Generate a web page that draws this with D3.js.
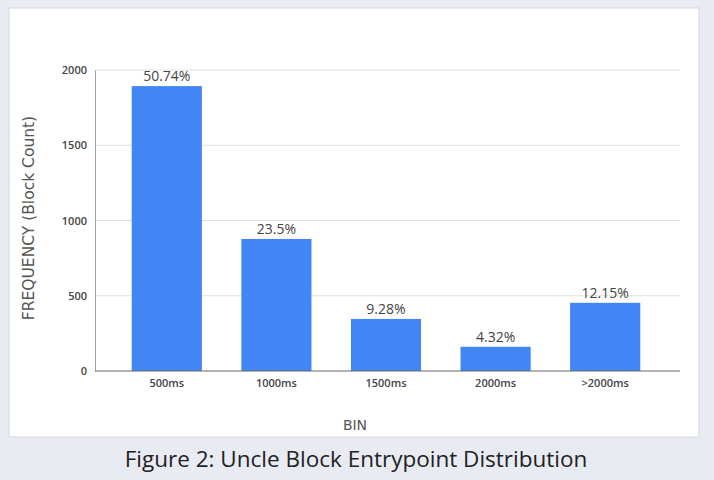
<!DOCTYPE html>
<html>
<head>
<meta charset="utf-8">
<script src="https://cdn.jsdelivr.net/npm/d3@7"></script>
<style>
  body { margin: 0; background: #e8ebf2; }
  svg { display: block; }
</style>
</head>
<body>
<div id="container"><svg></svg></div>
<script>
let width = 714;
let height = 480;

let bins = ['500ms', '1000ms', '1500ms', '2000ms', '>2000ms'];
let counts = [1893, 877, 346, 161, 453];
let percents = ['50.74%', '23.5%', '9.28%', '4.32%', '12.15%'];
let yTicks = [0, 500, 1000, 1500, 2000];

let svg = d3.select('#container').select('svg')
    .attr('width', width)
    .attr('height', height);

// white card
svg.append('rect')
    .attr('x', 9).attr('y', 8)
    .attr('width', 690).attr('height', 429)
    .attr('fill', '#fff')
    .attr('stroke', '#d4d7de')
    .attr('stroke-width', 1);

let xScale = d3.scaleBand()
    .domain(bins)
    .range([112, 660])
    .paddingInner(0.36)
    .paddingOuter(0.18);

let yScale = d3.scaleLinear()
    .domain([0, 2000])
    .range([371, 70]);

// gridlines
svg.append('g')
    .selectAll('line')
    .data(yTicks.filter(t => t > 0))
    .join('line')
    .attr('x1', 95).attr('x2', 680)
    .attr('y1', d => yScale(d)).attr('y2', d => yScale(d))
    .attr('stroke', '#e0e0e0')
    .attr('stroke-width', 1);

// y axis
let yAxis = svg.append('g')
    .attr('transform', 'translate(95,0)')
    .call(d3.axisLeft(yScale).tickValues(yTicks).tickFormat(d3.format('d')).tickSize(0).tickPadding(8));
yAxis.select('.domain').attr('stroke', '#9e9e9e');
yAxis.selectAll('text')
    .attr('font-family', 'Open Sans')
    .attr('font-size', 11)
    .attr('font-weight', 600)
    .attr('fill', '#444');

// bars
svg.append('g')
    .selectAll('rect')
    .data(counts)
    .join('rect')
    .attr('x', (d, i) => xScale(bins[i]))
    .attr('y', d => yScale(d))
    .attr('width', xScale.bandwidth())
    .attr('height', d => yScale(0) - yScale(d))
    .attr('fill', '#4285f4');

// value labels
svg.append('g')
    .selectAll('text')
    .data(counts)
    .join('text')
    .attr('x', (d, i) => xScale(bins[i]) + xScale.bandwidth() / 2)
    .attr('y', d => yScale(d) - 5)
    .attr('text-anchor', 'middle')
    .attr('font-family', 'Open Sans')
    .attr('font-size', 14)
    .attr('fill', '#444')
    .text((d, i) => percents[i]);

// x axis
let xAxis = svg.append('g')
    .attr('transform', 'translate(0,371)')
    .call(d3.axisBottom(xScale).tickSize(0).tickPadding(8));
xAxis.select('.domain').remove();
xAxis.append('line')
    .attr('x1', 95).attr('x2', 680)
    .attr('stroke', '#666').attr('stroke-width', 1.2);
xAxis.selectAll('text')
    .attr('font-family', 'Open Sans')
    .attr('font-size', 11)
    .attr('font-weight', 600)
    .attr('fill', '#444');

// axis titles
svg.append('text')
    .attr('transform', 'translate(34,218) rotate(-90)')
    .attr('text-anchor', 'middle')
    .attr('font-family', 'DejaVu Sans')
    .attr('font-size', 15.5)
    .attr('fill', '#555')
    .text('FREQUENCY (Block Count)');

svg.append('text')
    .attr('x', 355).attr('y', 430)
    .attr('text-anchor', 'middle')
    .attr('font-family', 'DejaVu Sans')
    .attr('font-size', 14)
    .attr('fill', '#555')
    .text('BIN');

// caption
svg.append('text')
    .attr('x', 356).attr('y', 467)
    .attr('text-anchor', 'middle')
    .attr('font-family', 'Open Sans')
    .attr('font-size', 22.5)
    .attr('fill', '#222')
    .text('Figure 2: Uncle Block Entrypoint Distribution');
</script>
</body>
</html>
